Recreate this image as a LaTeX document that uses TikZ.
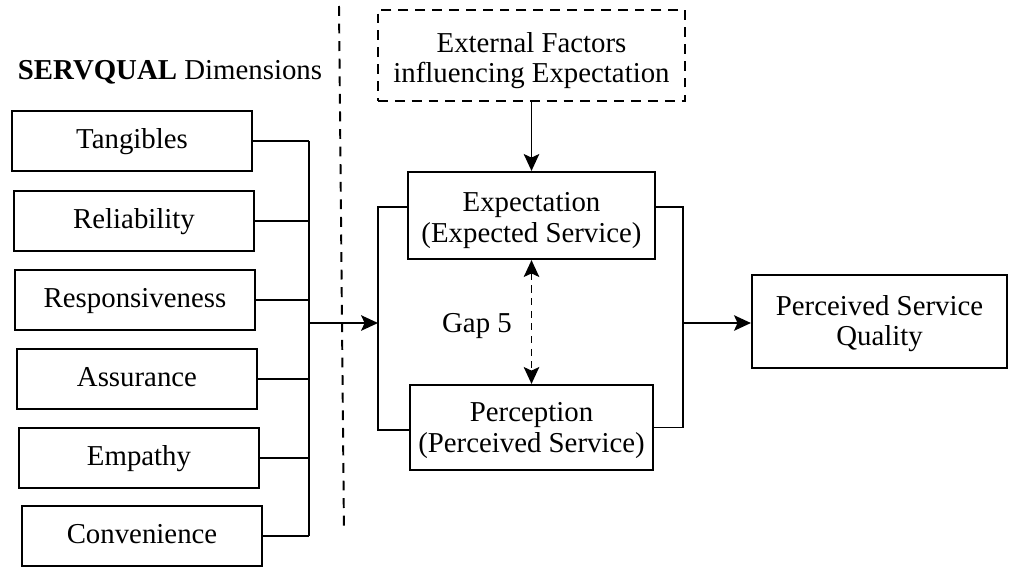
\documentclass[tikz,border=0pt]{standalone}
\usepackage{fontspec}
\setmainfont{Liberation Serif}
\usetikzlibrary{arrows.meta}
\begin{document}
\begin{tikzpicture}[x=0.025cm,y=-0.025cm,
  every node/.style={inner sep=0pt},
  txt/.style={font=\fontsize{20.5}{21.8}\selectfont, align=center, inner sep=0pt},
  dimbox/.style={draw, line width=1.5pt, minimum width=6cm, minimum height=1.5cm,
    txt, text height=15.5pt, text depth=4.5pt},
  mainbox/.style={draw, line width=1.5pt},
  ln/.style={line width=1.4pt},
  arr/.style={line width=1.4pt, -{Stealth[length=12pt, width=11pt, inset=2.5pt]}},
  dbl/.style={line width=1.4pt, dash pattern=on 5pt off 4pt,
    {Stealth[length=12pt, width=11pt, inset=2.5pt]}-{Stealth[length=12pt, width=11pt, inset=2.5pt]}},
  dash1/.style={dash pattern=on 7pt off 5pt},
]
\useasboundingbox (0,0) rectangle (1024,573);
\fill[white] (0,0) rectangle (1024,573);

% title
\node[txt] (title) at (170,72) {\textbf{SERVQUAL} Dimensions};

% dimension boxes
\node[dimbox] (tan) at (132,141) {Tangibles};
\node[dimbox] (rel) at (134,221) {Reliability};
\node[dimbox] (res) at (135,300) {Responsiveness};
\node[dimbox] (ass) at (137,379) {Assurance};
\node[dimbox] (emp) at (139,458) {Empathy};
\node[dimbox] (con) at (142,536) {Convenience};

% bus
\coordinate (busx) at (309,0);
\coordinate (busmid) at (309,323);
\foreach \b in {tan,rel,res,ass,emp,con}{
  \draw[ln] (\b.east) -- (\b.east -| busx);
}
\draw[ln] (tan.east -| busx) -- (con.east -| busx);

% separator
\coordinate (septop) at (339,6);
\coordinate (sepbot) at (344,533);
\draw[ln, dash pattern=on 7pt off 5.5pt] (septop) -- (sepbot);

% external factors
\node[draw, line width=1.5pt, dash1, minimum width=7.675cm, minimum height=2.275cm,
  label={[txt, yshift=-3.6pt]center:{External Factors\\influencing Expectation}}]
  (ext) at (531.5,55.5) {};

% expectation / perception
\node[mainbox, minimum width=6.175cm, minimum height=2.175cm,
  label={[txt, yshift=-3.5pt]center:{Expectation\\(Expected Service)}}]
  (exp) at (531.5,215.5) {};
\node[mainbox, minimum width=6.075cm, minimum height=2.125cm,
  label={[txt, yshift=-2pt]center:{Perception\\(Perceived Service)}}]
  (per) at (531.5,427.5) {};

% perceived service quality
\node[mainbox, minimum width=6.375cm, minimum height=2.325cm,
  label={[txt, yshift=-1.5pt]center:{Perceived Service\\Quality}}]
  (psq) at (879.5,321.5) {};

% brackets
\coordinate (lb) at (378,323);
\coordinate (rb) at (683,323);
\draw[ln] ([yshift=6pt]exp.west) -| (lb) |- ([yshift=-2pt]per.west);
\draw[ln] ([yshift=6pt]exp.east) -| (rb) |- (per.east);

% arrows
\draw[arr] (busmid) -- (lb);
\draw[arr] (rb) -- (rb -| psq.west);
\draw[arr] (ext.south) -- (exp.north);
\draw[dbl] (exp.south) -- (per.north);

\node[txt, text height=14pt, text depth=4.5pt] (gap) at (477,326) {Gap 5};
\end{tikzpicture}
\end{document}
